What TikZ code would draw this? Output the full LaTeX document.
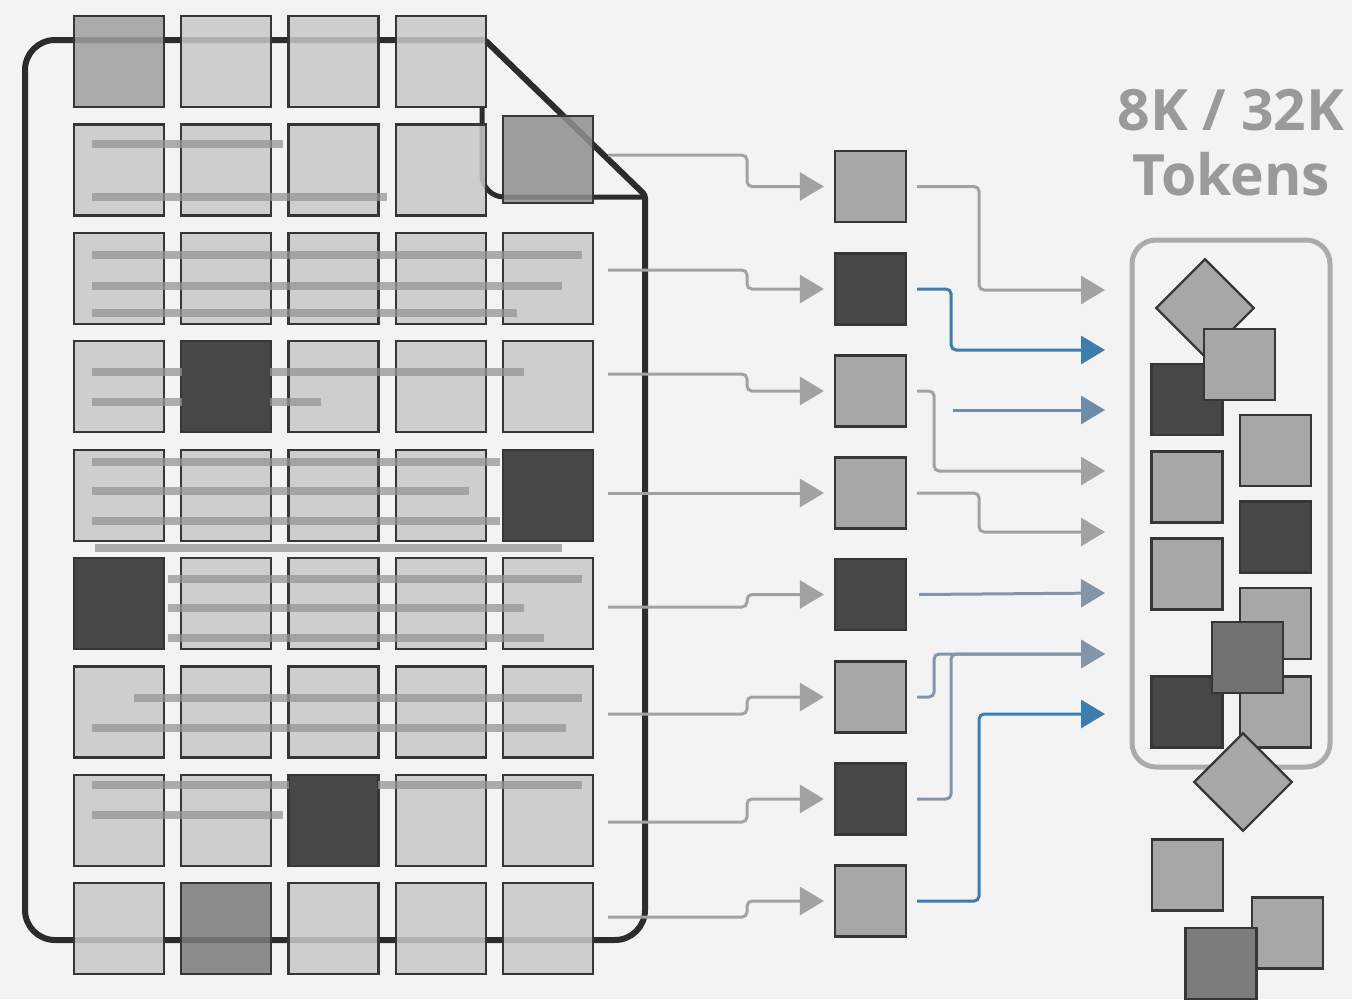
\documentclass[tikz,border=0pt]{standalone}
\usepackage{fontspec}
\newfontfamily\tokfont{Open Sans}
\usetikzlibrary{arrows.meta,positioning}

\definecolor{bgcol}{HTML}{F3F3F3}
\definecolor{docline}{HTML}{2C2C2C}
\definecolor{cellline}{HTML}{363636}
\definecolor{cellfill}{HTML}{C8C8C8}
\definecolor{celldark}{HTML}{474747}
\definecolor{cellmid}{HTML}{9E9E9E}
\definecolor{cellcorner}{HTML}{8E8E8E}
\definecolor{cellgrey}{HTML}{7A7A7A}
\definecolor{sqlite}{HTML}{A7A7A7}
\definecolor{sqgrey}{HTML}{727272}
\definecolor{sqdrop}{HTML}{7C7C7C}
\definecolor{barcol}{HTML}{959595}
\definecolor{feedcol}{HTML}{A2A2A2}
\definecolor{pickblue}{HTML}{3B7DB1}
\definecolor{slate}{HTML}{8396A9}
\definecolor{slateblue}{HTML}{6F8BA6}
\definecolor{boxline}{HTML}{ABABAB}
\definecolor{titlecol}{HTML}{9A9A9A}

\tikzset{
  cellbox/.style={draw=cellline, line width=2.2, minimum width=90, minimum height=91, inner sep=0, fill opacity=.85},
  litecell/.style={fill=cellfill},
  midcell/.style={fill=cellmid},
  greycell/.style={fill=cellgrey},
  darkcell/.style={fill=celldark, fill opacity=1},
  tokbox/.style={draw=cellline, line width=2.2, minimum size=71, inner sep=0},
  txtbar/.style={draw=barcol, line width=8, opacity=.75},
  feedarrow/.style={draw=feedcol, line width=3, rounded corners=5, -{Triangle[length=24pt, width=28pt]}},
  pickarrow/.style={feedarrow, draw=pickblue},
  slatearrow/.style={feedarrow, draw=slate}
}

\begin{document}
\begin{tikzpicture}[x=1pt, y=-1pt]
  \path[use as bounding box, fill=bgcol] (0,0) rectangle (1352,999);

  % document outline with folded corner
  \draw[docline, line width=6] (485,40) [rounded corners=30] -- (25,40) -- (25,940) -- (645,940) [rounded corners=3] -- (645,195) -- cycle;
  \draw[docline, line width=5, rounded corners=22] (482,108) -- (482,197) -- (645,197);

  % page cells
  \foreach \r/\fills in {1/{midcell,litecell,litecell,litecell},
                         2/{litecell,litecell,litecell,litecell},
                         3/{litecell,litecell,litecell,litecell,litecell},
                         4/{litecell,darkcell,litecell,litecell,litecell},
                         5/{litecell,litecell,litecell,litecell,darkcell},
                         6/{darkcell,litecell,litecell,litecell,litecell},
                         7/{litecell,litecell,litecell,litecell,litecell},
                         8/{litecell,litecell,darkcell,litecell,litecell},
                         9/{litecell,greycell,litecell,litecell,litecell}}
    \foreach \f [count=\c] in \fills
      \node[cellbox, \f] (c\r-\c) at ({119+(\c-1)*107.25},{61.5+(\r-1)*108.4}) {};
  \node[cellbox, fill=cellcorner, minimum height=87] (c2-5) at (548,159.5) {};

  % text lines
  \foreach \y/\xa/\xb in {144/92/283, 197/92/387,
                          255/92/582, 286/92/562, 313/92/517,
                          372/92/182, 372/270/524, 402/92/182, 402/270/321,
                          462/92/500, 491/92/469, 521/92/500, 548/95/562,
                          579/168/582, 608/168/524, 638/168/544,
                          698/134/582, 728/92/566,
                          785/92/289, 785/378/582, 815/92/283}
    \draw[txtbar] (\xa,\y) -- (\xb,\y);

  % picked tokens
  \foreach \y/\f [count=\i] in {186.5/sqlite, 289/celldark, 391/sqlite, 493/sqlite,
                                594.5/celldark, 697/sqlite, 799/celldark, 901/sqlite}
    \node[tokbox, fill=\f] (m\i) at (870.5,\y) {};

  \foreach \i/\y in {1/155, 2/270, 3/374, 5/607, 6/714, 7/822, 8/917} {
    \coordinate (s\i) at (608,\y);
    \draw[feedarrow] (s\i) -- ++(139,0) |- ([xshift=-10]m\i.west);
  }
  \coordinate (s4) at (608,493);
  \draw[feedarrow] (s4) -- ([xshift=-10]m4.west);

  % context window
  \node[draw=boxline, line width=5, rounded corners=24, minimum width=198, minimum height=527, inner sep=0] (ctx) at (1231,503.5) {};
  \node[text=titlecol, font=\tokfont\bfseries\fontsize{57}{65}\selectfont, align=center] (lbl) at (1231,143) {8K / 32K\\Tokens};

  \foreach \i/\y in {1/290, 2/350, 3/410, 4/471, 5/532, 6/593, 7/654, 8/714}
    \coordinate (t\i) at (1105,\y);
  \coordinate (f3) at (953,410);

  \draw[feedarrow] ([xshift=10]m1.east) -- ++(62,0) |- (t1);
  \draw[pickarrow] ([xshift=10]m2.east) -- ++(34,0) |- (t2);
  \draw[slatearrow, draw=slateblue] (f3) -- (t3);
  \draw[feedarrow] ([xshift=10]m3.east) -- ++(17,0) |- (t4);
  \draw[feedarrow] ([xshift=10]m4.east) -- ++(62,0) |- (t5);
  \draw[slatearrow] ([xshift=12]m5.east) -- (t6);
  \draw[slatearrow] ([xshift=10]m6.east) -- ++(17,0) |- (t7);
  \draw[slatearrow] ([xshift=10]m7.east) -- ++(34,0) |- (t7);
  \draw[pickarrow] ([xshift=10]m8.east) -- ++(62,0) |- (t8);

  % tokens in the window
  \node[tokbox, fill=sqlite, rotate=45, minimum size=69] (d1) at (1205,308) {};
  \node[tokbox, fill=celldark] (k1) at (1187,399.5) {};
  \node[tokbox, fill=sqlite] (k2) at (1239.5,364.5) {};
  \node[tokbox, fill=sqlite] (k3) at (1275.5,450.5) {};
  \node[tokbox, fill=sqlite] (k4) at (1187,487) {};
  \node[tokbox, fill=celldark] (k5) at (1275.5,537) {};
  \node[tokbox, fill=sqlite] (k6) at (1187,574) {};
  \node[tokbox, fill=sqlite] (k7) at (1275.5,623.5) {};
  \node[tokbox, fill=celldark] (k8) at (1187,712) {};
  \node[tokbox, fill=sqlite] (k9) at (1275.5,712) {};
  \node[tokbox, fill=sqgrey] (k10) at (1247.5,657.5) {};

  % overflow
  \node[tokbox, fill=sqlite, rotate=45, minimum size=69] (d2) at (1243,782) {};
  \node[tokbox, fill=sqlite] (k11) at (1187.5,875) {};
  \node[tokbox, fill=sqlite] (k12) at (1287.5,933) {};
  \node[tokbox, fill=sqdrop] (k13) at (1221,963.5) {};
\end{tikzpicture}
\end{document}
